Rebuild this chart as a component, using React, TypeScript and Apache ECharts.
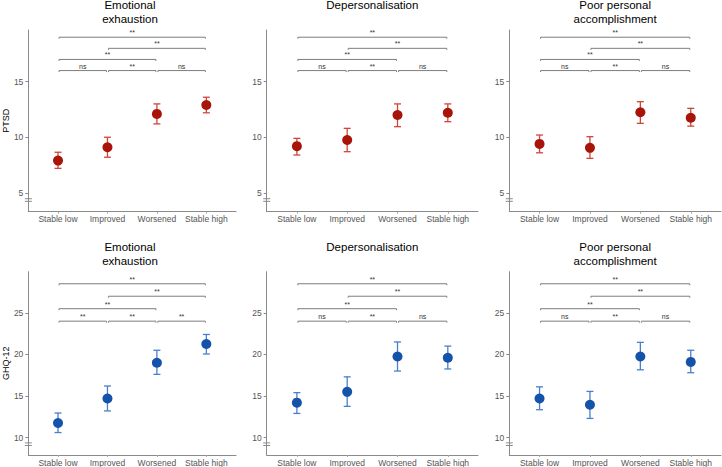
import React, { useEffect, useRef } from "react";
import * as echarts from "echarts";

const categories = ["Stable low", "Improved", "Worsened", "Stable high"];
const panelTitles = ["Emotional\nexhaustion", "Depersonalisation", "Poor personal\naccomplishment"];
const rowNames = ["PTSD", "GHQ-12"];

// PTSD row
const ptsdEEMean = [7.9, 9.1, 12.1, 12.9];
const ptsdEELow = [7.2, 8.2, 11.2, 12.2];
const ptsdEEHigh = [8.65, 10.0, 13.0, 13.6];
const ptsdDPMean = [9.2, 9.75, 12.0, 12.2];
const ptsdDPLow = [8.4, 8.7, 10.95, 11.4];
const ptsdDPHigh = [9.9, 10.8, 13.0, 13.0];
const ptsdPAMean = [9.4, 9.05, 12.25, 11.75];
const ptsdPALow = [8.6, 8.1, 11.25, 11.0];
const ptsdPAHigh = [10.2, 10.05, 13.2, 12.6];

// GHQ-12 row
const ghqEEMean = [11.75, 14.7, 19.0, 21.25];
const ghqEELow = [10.6, 13.2, 17.6, 20.05];
const ghqEEHigh = [12.95, 16.2, 20.5, 22.4];
const ghqDPMean = [14.2, 15.5, 19.75, 19.6];
const ghqDPLow = [12.9, 13.75, 18.0, 18.25];
const ghqDPHigh = [15.4, 17.3, 21.5, 21.0];
const ghqPAMean = [14.7, 13.95, 19.75, 19.1];
const ghqPALow = [13.35, 12.3, 18.15, 17.8];
const ghqPAHigh = [16.1, 15.55, 21.45, 20.5];

// comparisons (category positions 1..4)
const comparisons = [[1, 2], [2, 3], [3, 4], [1, 3], [2, 4], [1, 4]];
const ptsdBracketLevels = [16, 16, 16, 17, 18, 19];
const ghqBracketLevels = [24, 24, 24, 25.5, 27, 28.5];
const ptsdLabelsEE = ["ns", "**", "ns", "**", "**", "**"];
const ptsdLabelsDP = ["ns", "**", "ns", "**", "**", "**"];
const ptsdLabelsPA = ["ns", "**", "ns", "**", "**", "**"];
const ghqLabelsEE = ["**", "**", "**", "**", "**", "**"];
const ghqLabelsDP = ["ns", "**", "ns", "**", "**", "**"];
const ghqLabelsPA = ["ns", "**", "ns", "**", "**", "**"];

const ptsdTicks = [5, 10, 15];
const ghqTicks = [10, 15, 20, 25];

const FONT = "'Liberation Sans', Arial, sans-serif";

export default function App() {
  const ref = useRef<HTMLDivElement>(null);
  useEffect(() => {
    if (!ref.current) return;
    const chart = echarts.init(ref.current, undefined, { renderer: "svg" });

    const colLeft = [24, 266.7, 509.3];
    const colWidth = [212, 211.3, 211.7];
    const rowTop = [30, 271.7];
    const rowHeight = [181.7, 184];

    const rows = [
      {
        means: [ptsdEEMean, ptsdDPMean, ptsdPAMean],
        lows: [ptsdEELow, ptsdDPLow, ptsdPALow],
        highs: [ptsdEEHigh, ptsdDPHigh, ptsdPAHigh],
        labels: [ptsdLabelsEE, ptsdLabelsDP, ptsdLabelsPA],
        levels: ptsdBracketLevels,
        ticks: ptsdTicks,
        min: 3.3,
        max: 19.65,
        breakVal: 4.35,
        dot: "#A8140A",
        bar: "#D0453B",
      },
      {
        means: [ghqEEMean, ghqDPMean, ghqPAMean],
        lows: [ghqEELow, ghqDPLow, ghqPALow],
        highs: [ghqEEHigh, ghqDPHigh, ghqPAHigh],
        labels: [ghqLabelsEE, ghqLabelsDP, ghqLabelsPA],
        levels: ghqBracketLevels,
        ticks: ghqTicks,
        min: 7.9,
        max: 29.95,
        breakVal: 9.2,
        dot: "#1552AA",
        bar: "#4A7FCF",
      },
    ];

    const grids: any[] = [];
    const xAxes: any[] = [];
    const yAxes: any[] = [];
    const series: any[] = [];
    const graphics: any[] = [];

    rows.forEach((row, r) => {
      for (let c = 0; c < 3; c++) {
        const k = r * 3 + c;
        grids.push({ left: colLeft[c], top: rowTop[r], width: colWidth[c], height: rowHeight[r] });
        xAxes.push({
          type: "value",
          gridIndex: k,
          min: 0.4,
          max: 4.6,
          splitLine: { show: false },
          axisLine: { show: true, lineStyle: { color: "#8a8a8a", width: 1 } },
          axisTick: { show: true, customValues: [1, 2, 3, 4], length: 2, lineStyle: { color: "#aaa" } },
          axisLabel: {
            customValues: [1, 2, 3, 4],
            formatter: (v: number) => categories[Math.round(v) - 1] ?? "",
            color: "#555",
            fontSize: 8.5,
            fontFamily: FONT,
            margin: 3,
          },
        });
        yAxes.push({
          type: "value",
          gridIndex: k,
          min: row.min,
          max: row.max,
          splitLine: { show: false },
          axisLine: { show: true, lineStyle: { color: "#8a8a8a", width: 1 } },
          axisTick: { show: true, customValues: row.ticks, length: 3, lineStyle: { color: "#8a8a8a" } },
          axisLabel: { customValues: row.ticks, color: "#555", fontSize: 8.5, fontFamily: FONT, margin: 5 },
          name: c === 0 ? rowNames[r] : "",
          nameLocation: "middle",
          nameGap: 18,
          nameTextStyle: { color: "#000", fontSize: 9, fontFamily: FONT },
        });

        const lows = row.lows[c];
        const highs = row.highs[c];
        const means = row.means[c];
        const labels = row.labels[c];

        // error bars
        series.push({
          type: "custom",
          xAxisIndex: k,
          yAxisIndex: k,
          data: categories.map((_, i) => [i + 1, lows[i], highs[i]]),
          encode: { x: 0, y: [1, 2] },
          clip: false,
          renderItem: (params: any, api: any) => {
            const x = api.value(0);
            const pLo = api.coord([x, api.value(1)]);
            const pHi = api.coord([x, api.value(2)]);
            const hw = 3.5;
            const st = { stroke: row.bar, lineWidth: 1.3 };
            return {
              type: "group",
              children: [
                { type: "line", shape: { x1: pLo[0], y1: pLo[1], x2: pHi[0], y2: pHi[1] }, style: st },
                { type: "line", shape: { x1: pLo[0] - hw, y1: pLo[1], x2: pLo[0] + hw, y2: pLo[1] }, style: st },
                { type: "line", shape: { x1: pHi[0] - hw, y1: pHi[1], x2: pHi[0] + hw, y2: pHi[1] }, style: st },
              ],
            };
          },
        });
        // points
        series.push({
          type: "scatter",
          xAxisIndex: k,
          yAxisIndex: k,
          symbol: "circle",
          symbolSize: 10,
          itemStyle: { color: row.dot, opacity: 1 },
          data: means.map((m, i) => [i + 1, m]),
          z: 5,
        });
        // significance brackets
        series.push({
          type: "custom",
          xAxisIndex: k,
          yAxisIndex: k,
          data: comparisons.map((cmp, j) => [cmp[0], cmp[1], row.levels[j]]),
          encode: { x: [0, 1], y: 2 },
          clip: false,
          renderItem: (params: any, api: any) => {
            const p1 = api.coord([api.value(0), api.value(2)]);
            const p2 = api.coord([api.value(1), api.value(2)]);
            const x1 = p1[0] + 1;
            const x2 = p2[0] - 1;
            const y = p1[1];
            const st = { stroke: "#7d7d7d", lineWidth: 1 };
            return {
              type: "group",
              children: [
                { type: "line", shape: { x1, y1: y, x2, y2: y }, style: st },
                { type: "line", shape: { x1, y1: y, x2: x1, y2: y + 1.5 }, style: st },
                { type: "line", shape: { x1: x2, y1: y, x2, y2: y + 1.5 }, style: st },
                {
                  type: "text",
                  x: (x1 + x2) / 2,
                  y: y - 4.5,
                  style: {
                    text: labels[params.dataIndex],
                    align: "center",
                    verticalAlign: "middle",
                    fontSize: 7,
                    fontFamily: FONT,
                    fill: "#333",
                  },
                },
              ],
            };
          },
        });
        // axis break marks
        series.push({
          type: "custom",
          xAxisIndex: k,
          yAxisIndex: k,
          data: [[0.4, row.breakVal]],
          encode: { x: 0, y: 1 },
          clip: false,
          renderItem: (params: any, api: any) => {
            const p = api.coord([api.value(0), api.value(1)]);
            const st = { stroke: "#8a8a8a", lineWidth: 1 };
            return {
              type: "group",
              children: [
                { type: "line", shape: { x1: p[0] - 3.5, y1: p[1] - 1.3, x2: p[0] + 3.5, y2: p[1] - 1.3 }, style: st },
                { type: "line", shape: { x1: p[0] - 3.5, y1: p[1] + 1.3, x2: p[0] + 3.5, y2: p[1] + 1.3 }, style: st },
              ],
            };
          },
        });

        // panel title
        const twoLine = panelTitles[c].includes("\n");
        const firstLineY = r === 0 ? 5 : 246.7;
        graphics.push({
          type: "text",
          x: colLeft[c] + colWidth[c] / 2,
          y: twoLine ? firstLineY + 7 : firstLineY,
          style: {
            text: panelTitles[c],
            align: "center",
            verticalAlign: "middle",
            fontSize: 11.5,
            lineHeight: 14,
            fontFamily: FONT,
            fill: "#000",
          },
        });
      }
    });

    chart.setOption({
      animation: false,
      backgroundColor: "#fff",
      textStyle: { fontFamily: FONT },
      grid: grids,
      xAxis: xAxes,
      yAxis: yAxes,
      series,
      graphic: graphics,
    });
    return () => chart.dispose();
  }, []);

  return (
    <div
      ref={ref}
      style={{ position: "fixed", left: 0, top: 0, width: 722, height: 467, background: "#fff" }}
    />
  );
}
